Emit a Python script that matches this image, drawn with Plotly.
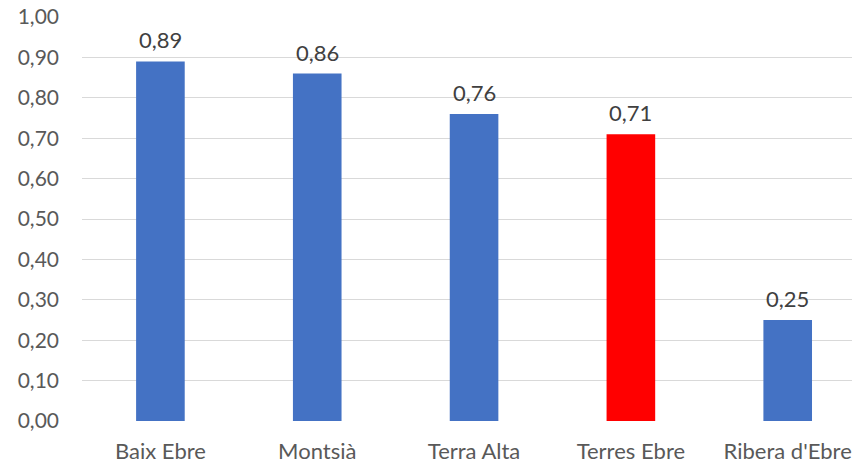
import plotly.graph_objects as go

categories = ["Baix Ebre", "Montsià", "Terra Alta", "Terres Ebre", "Ribera d'Ebre"]
values = [0.89, 0.86, 0.76, 0.71, 0.25]
colors = ["#4472C4", "#4472C4", "#4472C4", "#FF0000", "#4472C4"]
yticks = [0, 0.1, 0.2, 0.3, 0.4, 0.5, 0.6, 0.7, 0.8, 0.9, 1.0]
ytick_labels = [f"{v:.2f}".replace(".", ",") for v in yticks]
value_labels = [f"{v:.2f}".replace(".", ",") for v in values]

FONT = "Lato, Open Sans, sans-serif"
xs = list(range(len(categories)))
fig = go.Figure()
fig.add_trace(go.Bar(x=xs, y=values, marker=dict(color=colors, line=dict(width=0)),
                     width=0.31, hoverinfo="skip"))
for x, v, t in zip(xs, values, value_labels):
    fig.add_annotation(x=x, y=v, text=t, showarrow=False, yanchor="bottom",
                       yshift=6, font=dict(family=FONT, size=22, color="#404040"))

fig.update_layout(
    width=854, height=463,
    margin=dict(l=82, r=2, t=16.5, b=42, autoexpand=False),
    paper_bgcolor="white", plot_bgcolor="white",
    showlegend=False,
    font=dict(family=FONT, size=21, color="#595959"),
    xaxis=dict(range=[-0.5, 4.41], tickvals=xs, ticktext=categories, showgrid=False,
               zeroline=False, showline=False, ticks="", ticklabelstandoff=15,
               automargin=False, ticklabeloverflow="allow",
               tickfont=dict(size=22, color="#595959")),
    yaxis=dict(range=[0, 1.0], tickvals=yticks, ticktext=ytick_labels, showgrid=True,
               gridcolor="#D9D9D9", gridwidth=1.3, zeroline=False, showline=False,
               ticks="", ticklabelstandoff=22, automargin=False, ticklabeloverflow="allow",
               tickfont=dict(size=21, color="#595959")),
)
fig.write_html("out.html", config={"displayModeBar": False},
               post_script="document.body.style.margin='0';document.body.style.overflow='hidden';")
